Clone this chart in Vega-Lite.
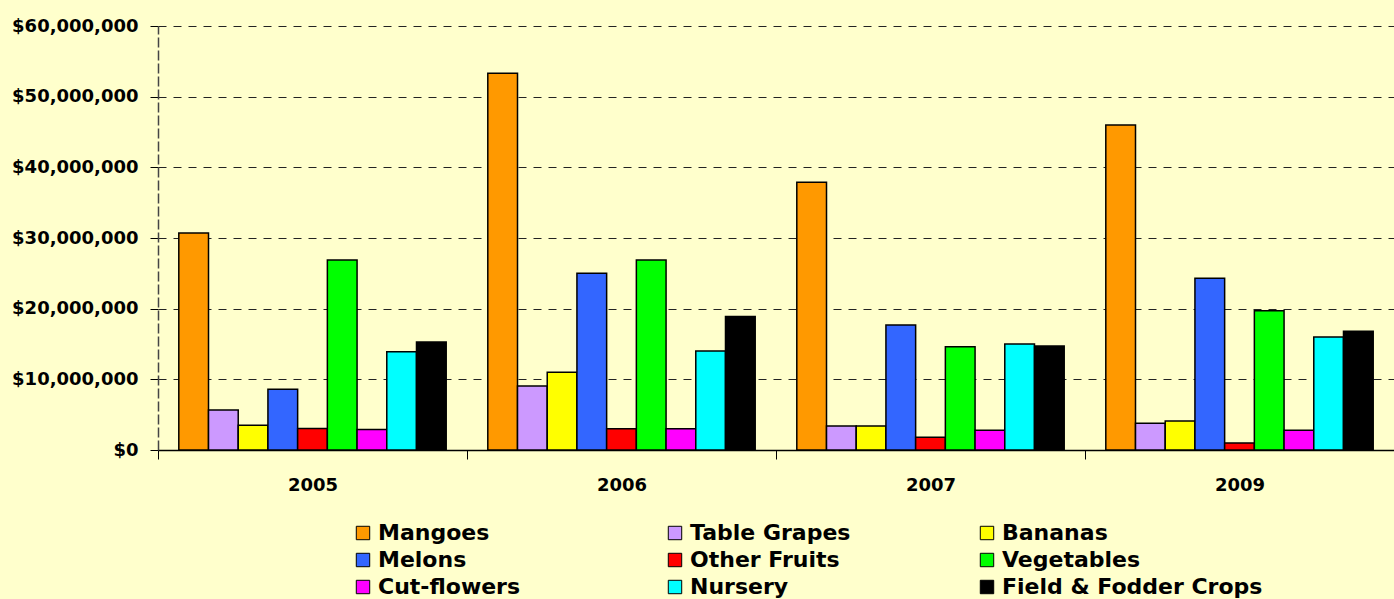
{
  "$schema": "https://vega.github.io/schema/vega-lite/v6.json",
  "width": 1236,
  "height": 424,
  "autosize": {"type": "none"},
  "padding": {"left": 158, "top": 26, "right": 0, "bottom": 149},
  "background": "#FFFFCC",
  "data": {
    "values": [
      {"year": "2005", "crop": "Mangoes", "value": 30700000},
      {"year": "2005", "crop": "Table Grapes", "value": 5650000},
      {"year": "2005", "crop": "Bananas", "value": 3500000},
      {"year": "2005", "crop": "Melons", "value": 8600000},
      {"year": "2005", "crop": "Other Fruits", "value": 3050000},
      {"year": "2005", "crop": "Vegetables", "value": 26900000},
      {"year": "2005", "crop": "Cut-flowers", "value": 2900000},
      {"year": "2005", "crop": "Nursery", "value": 13900000},
      {"year": "2005", "crop": "Field & Fodder Crops", "value": 15300000},
      {"year": "2006", "crop": "Mangoes", "value": 53300000},
      {"year": "2006", "crop": "Table Grapes", "value": 9050000},
      {"year": "2006", "crop": "Bananas", "value": 11000000},
      {"year": "2006", "crop": "Melons", "value": 25000000},
      {"year": "2006", "crop": "Other Fruits", "value": 3000000},
      {"year": "2006", "crop": "Vegetables", "value": 26900000},
      {"year": "2006", "crop": "Cut-flowers", "value": 3000000},
      {"year": "2006", "crop": "Nursery", "value": 14000000},
      {"year": "2006", "crop": "Field & Fodder Crops", "value": 18900000},
      {"year": "2007", "crop": "Mangoes", "value": 37900000},
      {"year": "2007", "crop": "Table Grapes", "value": 3400000},
      {"year": "2007", "crop": "Bananas", "value": 3400000},
      {"year": "2007", "crop": "Melons", "value": 17700000},
      {"year": "2007", "crop": "Other Fruits", "value": 1800000},
      {"year": "2007", "crop": "Vegetables", "value": 14600000},
      {"year": "2007", "crop": "Cut-flowers", "value": 2800000},
      {"year": "2007", "crop": "Nursery", "value": 15000000},
      {"year": "2007", "crop": "Field & Fodder Crops", "value": 14700000},
      {"year": "2009", "crop": "Mangoes", "value": 46000000},
      {"year": "2009", "crop": "Table Grapes", "value": 3800000},
      {"year": "2009", "crop": "Bananas", "value": 4100000},
      {"year": "2009", "crop": "Melons", "value": 24300000},
      {"year": "2009", "crop": "Other Fruits", "value": 1000000},
      {"year": "2009", "crop": "Vegetables", "value": 19700000},
      {"year": "2009", "crop": "Cut-flowers", "value": 2800000},
      {"year": "2009", "crop": "Nursery", "value": 16000000},
      {"year": "2009", "crop": "Field & Fodder Crops", "value": 16800000}
    ]
  },
  "mark": {"type": "bar", "stroke": "#000000", "strokeWidth": 1.5},
  "encoding": {
    "x": {
      "field": "year",
      "type": "nominal",
      "scale": {"paddingInner": 0, "paddingOuter": 0},
      "axis": {
        "title": null,
        "labelAngle": 0,
        "labelFont": "DejaVu Sans",
        "labelFontWeight": "bold",
        "labelFontSize": 18,
        "labelColor": "#000000",
        "labelPadding": 17,
        "tickBand": "extent",
        "tickSize": 9,
        "tickColor": "#000000",
        "domainColor": "#000000",
        "domainWidth": 1.5
      }
    },
    "xOffset": {
      "field": "crop",
      "type": "nominal",
      "sort": ["Mangoes", "Table Grapes", "Bananas", "Melons", "Other Fruits", "Vegetables", "Cut-flowers", "Nursery", "Field & Fodder Crops"],
      "scale": {"paddingInner": 0, "paddingOuter": 0.7}
    },
    "y": {
      "field": "value",
      "type": "quantitative",
      "scale": {"domain": [0, 60000000], "nice": false},
      "axis": {
        "title": null,
        "values": [0, 10000000, 20000000, 30000000, 40000000, 50000000, 60000000],
        "format": "$,.0f",
        "labelFont": "DejaVu Sans",
        "labelFontWeight": "bold",
        "labelFontSize": 18,
        "labelColor": "#000000",
        "labelPadding": 12,
        "tickSize": 8,
        "tickColor": "#000000",
        "domainColor": "#444444",
        "domainDash": [10, 3],
        "domainWidth": 1.5,
        "grid": true,
        "gridColor": "#222222",
        "gridDash": [8, 7],
        "gridWidth": 1
      }
    },
    "color": {
      "field": "crop",
      "type": "nominal",
      "scale": {
        "domain": ["Mangoes", "Table Grapes", "Bananas", "Melons", "Other Fruits", "Vegetables", "Cut-flowers", "Nursery", "Field & Fodder Crops"],
        "range": ["#FF9900", "#CC99FF", "#FFFF00", "#3366FF", "#FF0000", "#00FF00", "#FF00FF", "#00FFFF", "#000000"]
      },
      "legend": {
        "title": null,
        "orient": "none",
        "legendX": 194,
        "legendY": 496,
        "columns": 3,
        "direction": "horizontal",
        "gridAlign": "all",
        "columnPadding": 25,
        "rowPadding": 5,
        "padding": 0,
        "symbolType": "square",
        "symbolSize": 180,
        "symbolStrokeColor": "#000000",
        "symbolStrokeWidth": 1,
        "symbolOpacity": 1,
        "labelFont": "DejaVu Sans",
        "labelFontWeight": "bold",
        "labelFontSize": 22,
        "labelColor": "#000000",
        "labelOffset": 4,
        "labelLimit": 400
      }
    }
  },
  "config": {
    "view": {"stroke": null, "fill": "#FFFFCC"}
  }
}
